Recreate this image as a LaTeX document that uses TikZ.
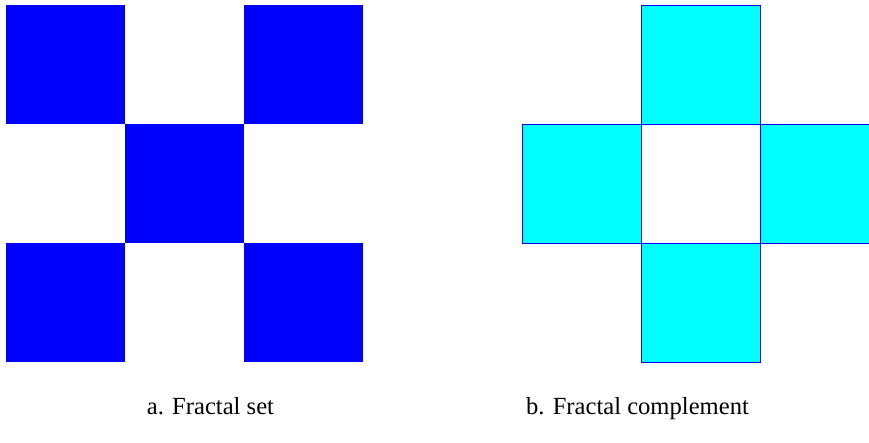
\documentclass[tikz,border=0pt]{standalone}
\usepackage{fontspec}
\setmainfont{LiberationSerif}[Extension=.ttf, UprightFont=*-Regular]
\usepackage{xcolor}
\definecolor{setc}{RGB}{0,0,255}
\definecolor{compc}{RGB}{0,255,255}

\begin{document}
\begin{tikzpicture}[x=1pt, y=-1pt, font=\rmfamily\fontsize{24.6}{29}\selectfont]
  \useasboundingbox (0,0) rectangle (869,442);
  % fractal set
  \fill[setc] (6,5) rectangle (125,124);
  \fill[setc] (244,5) rectangle (363,124);
  \fill[setc] (125,124) rectangle (244,243);
  \fill[setc] (6,243) rectangle (125,362);
  \fill[setc] (244,243) rectangle (363,362);
  % complement
  \draw[setc, line width=0.9pt, fill=compc] (641,5) rectangle (760,124);
  \draw[setc, line width=0.9pt, fill=compc] (522,124) rectangle (641,243);
  \draw[setc, line width=0.9pt, fill=compc] (760,124) rectangle (879,243);
  \draw[setc, line width=0.9pt, fill=compc] (641,243) rectangle (760,362);
  % captions
  \node[anchor=base] (capa) at (210.5,414) {a. Fractal set};
  \node[anchor=base] (capb) at (637.5,414) {b. Fractal complement};
\end{tikzpicture}
\end{document}
